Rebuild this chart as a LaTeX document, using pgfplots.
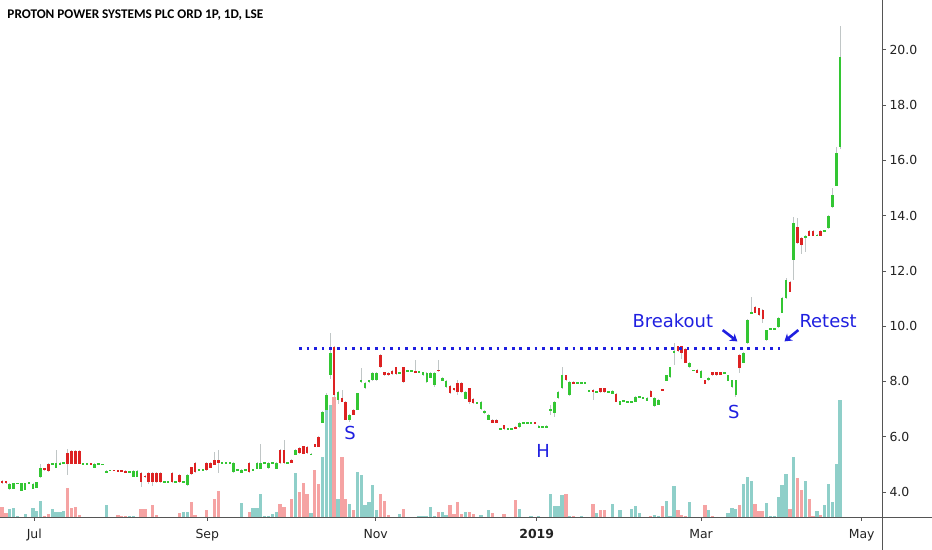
\documentclass[border=0pt]{standalone}
\usepackage{pgfplots}
\pgfplotsset{compat=1.18}
\usepackage{pgfplotstable}
\usetikzlibrary{arrows.meta}
\usepackage{fontspec}
\setmainfont{DejaVu Sans}
\newfontfamily\titlefont{Carlito}

\definecolor{candleup}{HTML}{33C633}
\definecolor{candledn}{HTML}{DD2222}
\definecolor{volup}{HTML}{8FCFC9}
\definecolor{voldn}{HTML}{F5A3A3}
\definecolor{wick}{HTML}{C0C6C6}
\definecolor{annblue}{HTML}{1F1FE0}
\definecolor{axisgray}{HTML}{555555}
\definecolor{labelgray}{HTML}{222222}

% daily candles: k = bar number, o h l c = price, v = volume (bar height)
\pgfplotstableread{
k o h l c v
1 4.40 4.43 4.30 4.33 10
2 4.38 4.41 4.29 4.32 4
3 4.10 4.33 4.07 4.30 8
4 4.12 4.34 4.10 4.32 9
5 4.30 4.33 4.29 4.32 1
6 4.05 4.34 4.03 4.32 0
7 4.08 4.34 4.06 4.32 3
8 4.32 4.34 4.30 4.32 0
9 4.12 4.32 4.10 4.30 9
10 4.15 4.37 4.13 4.35 6
11 4.55 5.00 4.50 4.87 16
12 4.85 4.88 4.76 4.78 1
13 5.02 5.05 4.74 4.76 3
14 5.01 5.03 4.99 5.01 8
15 4.88 5.52 4.86 5.05 5
16 5.00 5.08 4.98 5.05 5
17 5.05 5.07 5.03 5.05 6
18 5.40 5.55 4.62 5.01 29
19 5.50 5.52 5.00 5.02 9
20 5.50 5.52 5.00 5.02 10
21 5.50 5.52 5.00 5.02 2
22 5.01 5.03 4.99 5.01 0
23 5.01 5.03 4.99 5.01 0
24 5.02 5.04 4.99 5.00 0
25 4.88 5.04 4.86 5.02 0
26 5.01 5.03 4.99 5.01 0
27 5.00 5.02 4.98 5.00 0
28 4.70 4.78 4.68 4.76 12
29 4.78 4.80 4.76 4.78 0
30 4.79 4.81 4.76 4.77 0
31 4.79 4.81 4.74 4.76 2
32 4.78 4.80 4.73 4.75 1
33 4.76 4.78 4.70 4.72 1
34 4.73 4.75 4.71 4.73 1
35 4.55 4.79 4.53 4.77 1
36 4.55 4.78 4.53 4.76 0
37 4.69 4.72 4.18 4.35 8
38 4.58 4.60 4.50 4.54 8
39 4.69 4.72 4.30 4.36 0
40 4.69 4.72 4.20 4.36 12
41 4.69 4.71 4.33 4.36 2
42 4.69 4.71 4.33 4.36 0
43 4.36 4.38 4.34 4.36 0
44 4.36 4.38 4.34 4.36 0
45 4.69 4.71 4.33 4.36 0
46 4.36 4.38 4.34 4.36 0
47 4.62 4.64 4.33 4.36 4
48 4.36 4.38 4.34 4.36 5
49 4.25 4.64 4.20 4.62 5
50 4.90 4.92 4.60 4.65 15
51 5.05 5.08 4.70 4.72 2
52 4.80 4.82 4.78 4.80 0
53 4.80 4.82 4.78 4.80 0
54 5.05 5.07 4.76 4.78 7
55 5.05 5.07 4.86 4.88 0
56 5.16 5.45 4.96 4.98 18
57 5.16 5.52 4.69 5.05 26
58 5.06 5.08 5.04 5.06 0
59 5.06 5.08 5.04 5.06 0
60 5.06 5.08 5.04 5.06 0
61 4.72 5.07 4.70 5.05 0
62 4.80 4.82 4.78 4.80 0
63 4.70 4.82 4.68 4.80 14
64 4.80 4.82 4.78 4.80 0
65 5.05 5.07 4.70 4.72 5
66 4.80 4.82 4.78 4.80 9
67 4.84 5.07 4.82 5.05 9
68 4.84 5.74 4.82 5.05 23
69 5.05 5.07 5.03 5.05 1
70 4.85 5.07 4.83 5.05 1
71 5.05 5.07 5.03 5.05 3
72 4.84 5.07 4.82 5.05 5
73 5.52 5.55 5.03 5.05 13
74 5.52 5.88 5.03 5.05 10
75 5.06 5.08 5.04 5.06 0
76 5.16 5.18 5.04 5.06 18
77 5.34 5.54 5.32 5.52 44
78 5.59 5.62 5.39 5.41 25
79 5.66 5.68 5.36 5.38 34
80 5.63 5.65 5.39 5.41 23
81 5.34 5.40 5.32 5.38 4
82 5.72 5.74 5.61 5.63 47
83 5.99 6.02 5.61 5.63 33
84 6.50 6.92 6.48 6.90 60
85 6.97 7.60 6.95 7.51 108
86 8.23 9.75 8.10 9.03 112
87 9.26 9.30 7.45 7.51 120
88 7.33 7.64 7.20 7.62 18
89 7.40 7.69 7.24 7.26 60
90 7.26 7.28 6.59 6.61 18
91 6.61 6.81 6.55 6.79 13
92 6.97 6.99 6.77 6.79 7
93 6.97 7.60 6.95 7.58 45
94 7.98 8.49 7.96 8.05 42
95 7.76 7.97 7.74 7.95 12
96 7.98 8.07 7.96 8.05 15
97 8.05 8.33 8.03 8.31 32
98 8.05 8.33 8.03 8.31 7
99 8.96 8.98 8.50 8.52 23
100 8.34 8.36 8.21 8.23 16
101 8.31 8.33 8.21 8.23 2
102 8.38 8.40 8.25 8.27 0
103 8.52 8.54 8.25 8.27 0
104 8.31 8.33 8.29 8.31 3
105 8.52 8.54 7.96 7.98 8
106 8.38 8.40 8.36 8.38 0
107 8.38 8.40 8.36 8.38 0
108 8.38 8.78 8.30 8.32 0
109 8.34 8.36 8.32 8.34 1
110 8.23 8.36 8.21 8.34 1
111 7.98 8.33 7.96 8.31 1
112 8.13 8.33 8.11 8.31 10
113 7.87 8.33 7.80 8.31 1
114 8.42 8.78 8.36 8.38 5
115 8.02 8.15 8.00 8.13 5
116 7.80 8.04 7.78 8.02 2
117 7.84 7.86 7.56 7.58 12
118 7.76 7.78 7.67 7.69 3
119 7.95 8.05 7.51 7.62 15
120 7.95 7.97 7.60 7.62 3
121 7.37 7.64 7.35 7.62 5
122 7.76 7.78 7.20 7.26 5
123 7.37 7.39 7.20 7.22 3
124 7.22 7.24 7.20 7.22 0
125 7.00 7.28 6.98 7.26 2
126 6.86 6.95 6.84 6.93 0
127 6.61 6.81 6.59 6.79 7
128 6.61 6.63 6.48 6.50 4
129 6.61 6.63 6.48 6.50 0
130 6.28 6.30 6.26 6.28 0
131 6.42 6.44 6.26 6.28 3
132 6.28 6.30 6.26 6.28 0
133 6.28 6.30 6.26 6.28 0
134 6.36 6.38 6.28 6.30 17
135 6.35 6.52 6.33 6.50 8
136 6.50 6.52 6.48 6.50 0
137 6.50 6.52 6.48 6.50 0
138 6.50 6.52 6.48 6.50 1
139 6.50 6.52 6.45 6.47 0
140 6.32 6.41 6.30 6.39 1
141 6.35 6.37 6.33 6.35 0
142 6.32 6.41 6.30 6.39 0
143 6.93 7.15 6.80 6.99 23
144 6.86 7.28 6.70 7.26 11
145 7.40 7.64 7.38 7.62 11
146 7.76 8.52 7.74 8.23 22
147 8.23 8.25 8.03 8.05 23
148 7.51 8.00 7.49 7.98 1
149 7.98 8.00 7.89 7.91 1
150 7.95 7.97 7.93 7.95 0
151 7.95 7.97 7.93 7.95 1
152 7.95 7.97 7.93 7.95 0
153 7.66 7.68 7.64 7.66 0
154 7.69 7.71 7.33 7.62 13
155 7.62 7.64 7.60 7.62 4
156 7.76 7.78 7.60 7.62 7
157 7.76 7.78 7.60 7.62 7
158 7.62 7.64 7.60 7.62 0
159 7.55 7.68 7.53 7.66 13
160 7.55 7.57 7.24 7.26 0
161 7.15 7.31 7.13 7.29 7
162 7.29 7.31 7.27 7.29 0
163 7.26 7.28 7.24 7.26 0
164 7.26 7.28 7.24 7.26 8
165 7.26 7.46 7.24 7.44 11
166 7.44 7.46 7.42 7.44 4
167 7.40 7.42 7.38 7.40 0
168 7.30 7.42 7.28 7.40 0
169 7.66 7.68 7.42 7.44 1
170 7.11 7.42 7.09 7.40 2
171 7.15 7.35 7.13 7.33 1
172 7.72 7.74 7.64 7.66 11
173 8.02 8.25 8.00 8.23 16
174 8.16 8.54 8.14 8.52 1
175 9.03 9.39 8.60 9.10 31
176 9.28 9.30 9.08 9.10 7
177 9.28 9.30 8.80 9.03 2
178 9.18 9.20 8.65 8.67 1
179 8.52 8.69 8.50 8.67 15
180 8.40 8.42 8.38 8.40 0
181 8.42 8.44 8.29 8.31 0
182 8.13 8.40 8.11 8.38 0
183 8.05 8.07 7.89 7.91 12
184 8.05 8.15 8.03 8.13 7
185 8.34 8.36 8.21 8.23 1
186 8.34 8.36 8.21 8.23 0
187 8.34 8.36 8.23 8.25 0
188 8.30 8.32 8.28 8.30 0
189 8.02 8.25 8.00 8.23 4
190 7.80 8.07 7.78 8.05 9
191 7.51 8.07 7.45 8.05 8
192 8.96 8.98 8.30 8.49 12
193 8.67 9.05 8.65 9.03 33
194 9.39 10.25 9.37 10.23 40
195 10.48 11.05 10.46 10.50 36
196 10.70 10.72 10.46 10.48 13
197 10.65 10.67 10.38 10.40 6
198 10.60 10.62 10.10 10.26 6
199 9.50 9.88 9.48 9.86 14
200 9.90 9.92 9.88 9.90 1
201 9.90 9.92 9.88 9.90 1
202 9.97 10.32 9.95 10.30 20
203 10.48 11.04 10.46 11.02 32
204 11.02 11.75 11.00 11.67 43
205 11.60 11.62 11.22 11.24 8
206 12.40 13.95 11.67 13.74 60
207 13.59 13.90 12.99 13.01 39
208 13.19 13.21 12.60 12.94 27
209 13.19 13.29 12.70 13.27 36
210 13.45 13.47 13.25 13.27 18
211 13.45 13.47 13.25 13.27 1
212 13.27 13.32 13.25 13.30 6
213 13.45 13.47 13.25 13.27 2
214 13.45 13.47 13.43 13.45 12
215 13.55 14.01 13.53 13.99 33
216 14.31 15.00 14.29 14.75 15
217 15.09 16.50 15.07 16.27 53
218 16.49 20.87 16.40 19.74 117
}\candles

\begin{document}
\begin{tikzpicture}[x=1bp,y=1bp]
\useasboundingbox (0,0) rectangle (932,550);

% volume pane
\begin{axis}[
  at={(0bp,33bp)}, anchor=south west,
  scale only axis, width=882bp, height=517bp,
  xmin=0.482, xmax=228.86, ymin=0, ymax=517,
  hide axis]
  \addplot[ycomb, draw=volup, line width=3.3bp]
    table[x=k, y expr={\thisrow{c}<\thisrow{o} ? -5 : \thisrow{v}}] {\candles};
  \addplot[ycomb, draw=voldn, line width=3.3bp]
    table[x=k, y expr={\thisrow{c}<\thisrow{o} ? \thisrow{v} : -5}] {\candles};
\end{axis}

% price pane
\begin{axis}[
  at={(0bp,33bp)}, anchor=south west,
  scale only axis, width=882bp, height=517bp,
  xmin=0.482, xmax=228.86, ymin=3.095, ymax=21.807,
  axis x line*=bottom, axis y line*=right,
  axis line style={draw=axisgray, line width=0.8bp},
  tick align=outside, major tick length=4bp,
  tick style={draw=axisgray, line width=0.8bp},
  xtick={9.37,54.16,97.76,139.45,181.99,223.6},
  xticklabels={Jul,Sep,Nov,\textbf{2019},Mar,May},
  x tick label style={yshift=-4.5bp},
  ytick={4,6,...,20},
  y tick label style={/pgf/number format/.cd, fixed, fixed zerofill, precision=1, assume math mode=true, /tikz/.cd},
  tick label style={font=\fontsize{12.5}{15}\selectfont, text=labelgray},
  ]
  % wicks
  \addplot[draw=none, mark=none, error bars/.cd, y dir=both, y explicit, error mark=none,
      error bar style={draw=wick, line width=0.7bp, solid}]
    table[x=k, y expr={0.5*(\thisrow{h}+\thisrow{l})}, y error expr={0.5*(\thisrow{h}-\thisrow{l})}] {\candles};
  % rising bodies
  \addplot[draw=none, mark=none, error bars/.cd, y dir=both, y explicit, error mark=none,
      error bar style={draw=candleup, line width=2.6bp, solid}]
    table[x=k, y expr={\thisrow{c}<\thisrow{o} ? -50 : 0.5*(\thisrow{o}+\thisrow{c})},
          y error expr={max(0.5*abs(\thisrow{c}-\thisrow{o}),0.03)}] {\candles};
  % falling bodies
  \addplot[draw=none, mark=none, error bars/.cd, y dir=both, y explicit, error mark=none,
      error bar style={draw=candledn, line width=2.6bp, solid}]
    table[x=k, y expr={\thisrow{c}<\thisrow{o} ? 0.5*(\thisrow{o}+\thisrow{c}) : -50},
          y error expr={max(0.5*abs(\thisrow{c}-\thisrow{o}),0.03)}] {\candles};
  % neckline
  \addplot[annblue, line width=2.7bp, dash pattern=on 2.7bp off 4.9bp] coordinates {(77.9,9.2) (202.4,9.2)};

  \node[font=\fontsize{18}{20}\selectfont, text=annblue] at (axis cs:174.7,10.19) {Breakout};
  \node[font=\fontsize{18}{20}\selectfont, text=annblue] at (axis cs:214.9,10.19) {Retest};
  \node[font=\fontsize{18}{20}\selectfont, text=annblue] at (axis cs:91.1,6.14) {S};
  \node[font=\fontsize{18}{20}\selectfont, text=annblue] at (axis cs:141.1,5.50) {H};
  \node[font=\fontsize{18}{20}\selectfont, text=annblue] at (axis cs:190.5,6.88) {S};
  \draw[annblue, line width=2.6bp, -{Stealth[length=7bp,width=9bp]}] (axis cs:187.6,9.86) -- (axis cs:191.4,9.45);
  \draw[annblue, line width=2.6bp, -{Stealth[length=7bp,width=9bp]}] (axis cs:207.2,9.86) -- (axis cs:203.6,9.45);
\end{axis}

\draw[axisgray, line width=0.8bp] (882,0) -- (882,550);
\draw[axisgray, line width=0.8bp] (0,33) -- (932,33);
\node[anchor=base west, inner sep=0, font={\titlefont\bfseries\fontsize{13.3}{15}\selectfont}] at (7.3,531) {PROTON POWER SYSTEMS PLC ORD 1P, 1D, LSE};
\end{tikzpicture}
\end{document}
